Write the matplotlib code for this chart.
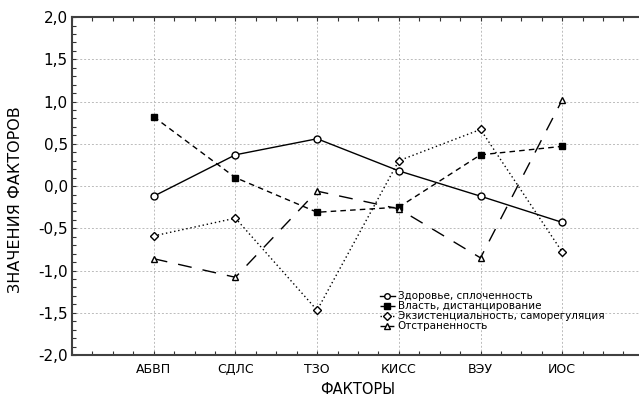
import numpy as np
import matplotlib
matplotlib.use("Agg")
import matplotlib.pyplot as plt
from matplotlib.ticker import MultipleLocator, FuncFormatter

categories = ["АБВП", "СДЛС", "ТЗО", "КИСС", "ВЭУ", "ИОС"]
zdorovie = [-0.12, 0.37, 0.56, 0.18, -0.12, -0.43]
vlast = [0.82, 0.10, -0.31, -0.25, 0.37, 0.47]
ekzist = [-0.59, -0.38, -1.47, 0.30, 0.67, -0.78]
otstran = [-0.86, -1.08, -0.06, -0.27, -0.85, 1.02]

plt.rcParams["font.family"] = ["DejaVu Sans"]

fig = plt.figure(figsize=(6.39, 3.98), dpi=100)
ax = fig.add_axes([0.1127, 0.108, 0.895, 0.849])

x = np.arange(1, len(categories) + 1)
ax.plot(x, zdorovie, "-", color="black", lw=1.0, marker="o", ms=5,
        mfc="white", mec="black", label="Здоровье, сплоченность")
ax.plot(x, vlast, color="black", lw=1.0, dashes=(4, 3), marker="s", ms=5,
        mfc="black", mec="black", label="Власть, дистанцирование")
ax.plot(x, ekzist, color="black", lw=1.0, dashes=(1, 2), marker="D", ms=4,
        mfc="white", mec="black", label="Экзистенциальность, саморегуляция")
ax.plot(x, otstran, color="black", lw=1.0, dashes=(10, 8), marker="^", ms=5,
        mfc="white", mec="black", label="Отстраненность")

ax.set_xlim(0, 7)
ax.set_ylim(-2.0, 2.0)
ax.set_xticks(x)
ax.set_xticklabels(categories, fontsize=9)
ax.xaxis.set_minor_locator(MultipleLocator(0.25))
ax.yaxis.set_major_locator(MultipleLocator(0.5))
ax.yaxis.set_minor_locator(MultipleLocator(0.1))
ax.yaxis.set_major_formatter(FuncFormatter(lambda v, p: f"{v:.1f}".replace(".", ",")))
ax.tick_params(axis="y", labelsize=11, pad=3)
ax.tick_params(axis="x", pad=6)
ax.tick_params(which="both", direction="in", top=True, color="#333333")
ax.tick_params(which="major", length=3, width=0.8)
ax.tick_params(which="minor", length=3, width=0.8)

ax.grid(True, which="major", color="#bbbbbb", linestyle=(0, (2, 2)), lw=0.7)
for s in ax.spines.values():
    s.set_color("#404040")
    s.set_linewidth(1.5)

ax.set_xlabel("ФАКТОРЫ", fontsize=10.5, labelpad=4)
ax.set_ylabel("ЗНАЧЕНИЯ ФАКТОРОВ", fontsize=11.5)
ax.yaxis.set_label_coords(-0.085, 0.46)

leg = ax.legend(loc="upper left", bbox_to_anchor=(0.526, 0.21), frameon=False,
                fontsize=7.5, handlelength=1.4, handletextpad=0.3,
                labelspacing=0.0, borderpad=0.2)
for line in leg.get_lines():
    line.set_markersize(4)

fig.savefig("out.png", dpi=100)
